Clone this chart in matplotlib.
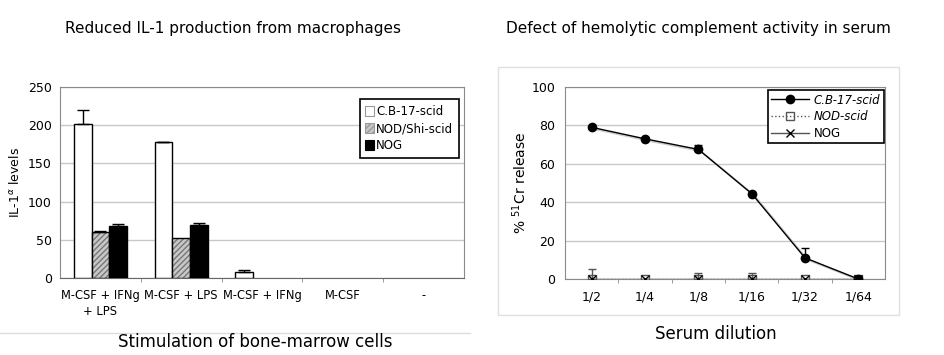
import numpy as np
import matplotlib
matplotlib.use("Agg")
import matplotlib.pyplot as plt
from matplotlib.patches import Rectangle
from matplotlib.lines import Line2D

# left panel data
stim = ["M-CSF + IFNg\n+ LPS", "M-CSF + LPS", "M-CSF + IFNg", "M-CSF", "-"]
cb17 = [202, 178, 8, 0, 0]
cb17_err = [18, 0.5, 3, 0, 0]
nodshi = [60, 52, 0, 0, 0]
nodshi_err = [1, 0, 0, 0, 0]
nog = [68, 70, 0, 0, 0]
nog_err = [2.5, 2.5, 0, 0, 0]

# right panel data
dil = ["1/2", "1/4", "1/8", "1/16", "1/32", "1/64"]
cr_cb17 = [79, 73, 67.5, 44.5, 11, 0]
cr_cb17_err = [0, 0, 2.5, 0, 5, 0]
cr_nod = [0, 0, 0, 0, 0, 0]
cr_nod_err = [5, 0, 3, 3, 0, 0]
cr_nog = [0, 0, 0, 0, 0, 0]

plt.rcParams['font.family'] = ['DejaVu Sans']
fig = plt.figure(figsize=(9.45, 3.55), dpi=100)
W, H = 945, 355

def ax_at(x0, y0, x1, y1):
    return fig.add_axes([x0 / W, 1 - y1 / H, (x1 - x0) / W, (y1 - y0) / H])

grid_c = '#c8c8c8'
frame_c = '#8a8a8a'

def up_err(ax, xs, ys, errs, color='black', cap=4):
    xs = np.asarray(xs, float)
    ys = np.asarray(ys, float)
    errs = np.asarray(errs, float)
    m = errs > 0
    if m.any():
        ax.errorbar(xs[m], ys[m], yerr=[np.zeros(m.sum()), errs[m]], fmt='none',
                    ecolor=color, elinewidth=1, capthick=1, capsize=cap, zorder=6)

# ---------- left ----------
ax = ax_at(60, 87, 464, 278)
x = np.arange(len(stim))
w = 0.22
def lws(vals):
    return [1 if v > 0 else 0 for v in vals]
ax.bar(x - w, cb17, w, color='white', edgecolor='black', lw=lws(cb17), zorder=3)
ax.bar(x, nodshi, w, color='#c8c8c8', edgecolor='#777777', hatch='//////', lw=0, zorder=3)
ax.bar(x, nodshi, w, color='none', edgecolor='black', lw=lws(nodshi), zorder=4)
ax.bar(x + w, nog, w, color='black', edgecolor='black', lw=lws(nog), zorder=3)
up_err(ax, x - w, cb17, cb17_err)
up_err(ax, x, nodshi, nodshi_err)
up_err(ax, x + w, nog, nog_err)
ax.set_xlim(-0.5, len(stim) - 0.5)
ax.set_ylim(0, 250)
ax.set_yticks(range(0, 251, 50))
ax.set_xticks(x)
ax.set_xticklabels(stim, fontsize=8.3, linespacing=1.3)
ax.set_xticks(np.arange(0.5, len(stim) - 0.5, 1), minor=True)
ax.tick_params(axis='x', which='major', length=0, pad=8)
ax.tick_params(axis='x', which='minor', length=3, color=frame_c)
ax.tick_params(axis='y', length=0, labelsize=9, pad=6)
ax.yaxis.grid(True, color=grid_c, lw=1, zorder=0)
for s in ax.spines.values():
    s.set_color(frame_c)
ax.spines['bottom'].set_color('#666666')
ax.set_ylabel(r"IL-1$^{\alpha}$ levels", fontsize=9, labelpad=4)
h1 = [Rectangle((0, 0), 1, 1, fc='white', ec='#999999', lw=0.8),
      Rectangle((0, 0), 1, 1, fc='#c8c8c8', ec='#999999', hatch='//////', lw=0.8),
      Rectangle((0, 0), 1, 1, fc='black', ec='black', lw=0.8)]
leg = ax.legend(h1, ["C.B-17-scid", "NOD/Shi-scid", "NOG"], loc='upper right',
                bbox_to_anchor=(0.988, 0.937), borderaxespad=0, fontsize=8.5,
                fancybox=False, handlelength=0.7, handleheight=0.9, handletextpad=0.2,
                labelspacing=0.35, borderpad=0.5, framealpha=1)
leg.get_frame().set_edgecolor('black')
leg.get_frame().set_linewidth(1.2)

fig.text(65 / W, 1 - 28 / H, "Reduced IL-1 production from macrophages",
         fontsize=11, va='center', ha='left')
fig.add_artist(Line2D([0, 470 / W], [1 - 333 / H] * 2, color='#dddddd', lw=1))
fig.text(255 / W, 1 - 342 / H, "Stimulation of bone-marrow cells",
         fontsize=12, ha='center', va='center')

# ---------- right ----------
fig.add_artist(Rectangle((498 / W, 1 - 315 / H), (899 - 498) / W, (315 - 67) / H,
                         fill=False, ec='#e0e0e0', lw=1))
ax2 = ax_at(565, 87, 885, 279)
xd = np.arange(len(dil))
ax2.plot(xd + 0.04, np.array(cr_cb17) - 0.8, color='#cccccc', lw=1.5, zorder=2)
ax2.plot(xd, cr_nod, color='#666666', lw=1, ls=':', marker='s', ms=6, mfc='none',
         mec='#555555', zorder=4)
up_err(ax2, xd, cr_nod, cr_nod_err, color='#555555', cap=3)
ax2.plot(xd, cr_nog, color='#555555', lw=1, marker='x', ms=6, mec='black', zorder=6)
ax2.plot(xd, cr_cb17, color='black', lw=1, marker='o', ms=6, mfc='black', zorder=5)
up_err(ax2, xd, cr_cb17, cr_cb17_err, cap=3)
ax2.set_xlim(-0.5, len(dil) - 0.5)
ax2.set_ylim(0, 100)
ax2.set_yticks(range(0, 101, 20))
ax2.set_xticks(xd)
ax2.set_xticklabels(dil, fontsize=9)
ax2.set_xticks(np.arange(0.5, len(dil) - 0.5, 1), minor=True)
ax2.tick_params(axis='x', which='major', length=0, pad=8)
ax2.tick_params(axis='x', which='minor', length=3, color=frame_c)
ax2.tick_params(axis='y', length=0, labelsize=9, pad=7)
ax2.yaxis.grid(True, color=grid_c, lw=1, zorder=0)
for s in ax2.spines.values():
    s.set_color(frame_c)
ax2.set_ylabel(r"% $^{51}$Cr release", fontsize=10, labelpad=2)
h2 = [Line2D([], [], color='black', lw=1, marker='o', ms=6, mfc='black'),
      Line2D([], [], color='#555555', lw=1, ls=':', marker='s', ms=6, mfc='none'),
      Line2D([], [], color='#555555', lw=1, marker='x', ms=6, mec='black')]
leg2 = ax2.legend(h2, ["C.B-17-scid", "NOD-scid", "NOG"], loc='upper right',
                  bbox_to_anchor=(0.997, 0.984), borderaxespad=0, fontsize=8.5,
                  fancybox=False, handlelength=3.2, handletextpad=0.4,
                  labelspacing=0.3, borderpad=0.3, framealpha=1)
leg2.get_frame().set_edgecolor('black')
leg2.get_frame().set_linewidth(1.2)
for t in leg2.get_texts()[:2]:
    t.set_style('italic')

fig.text(698 / W, 1 - 28 / H, "Defect of hemolytic complement activity in serum",
         fontsize=11, va='center', ha='center')
fig.text(716 / W, 1 - 334 / H, "Serum dilution", fontsize=12, ha='center', va='center')

fig.savefig("out.png", dpi=100)
